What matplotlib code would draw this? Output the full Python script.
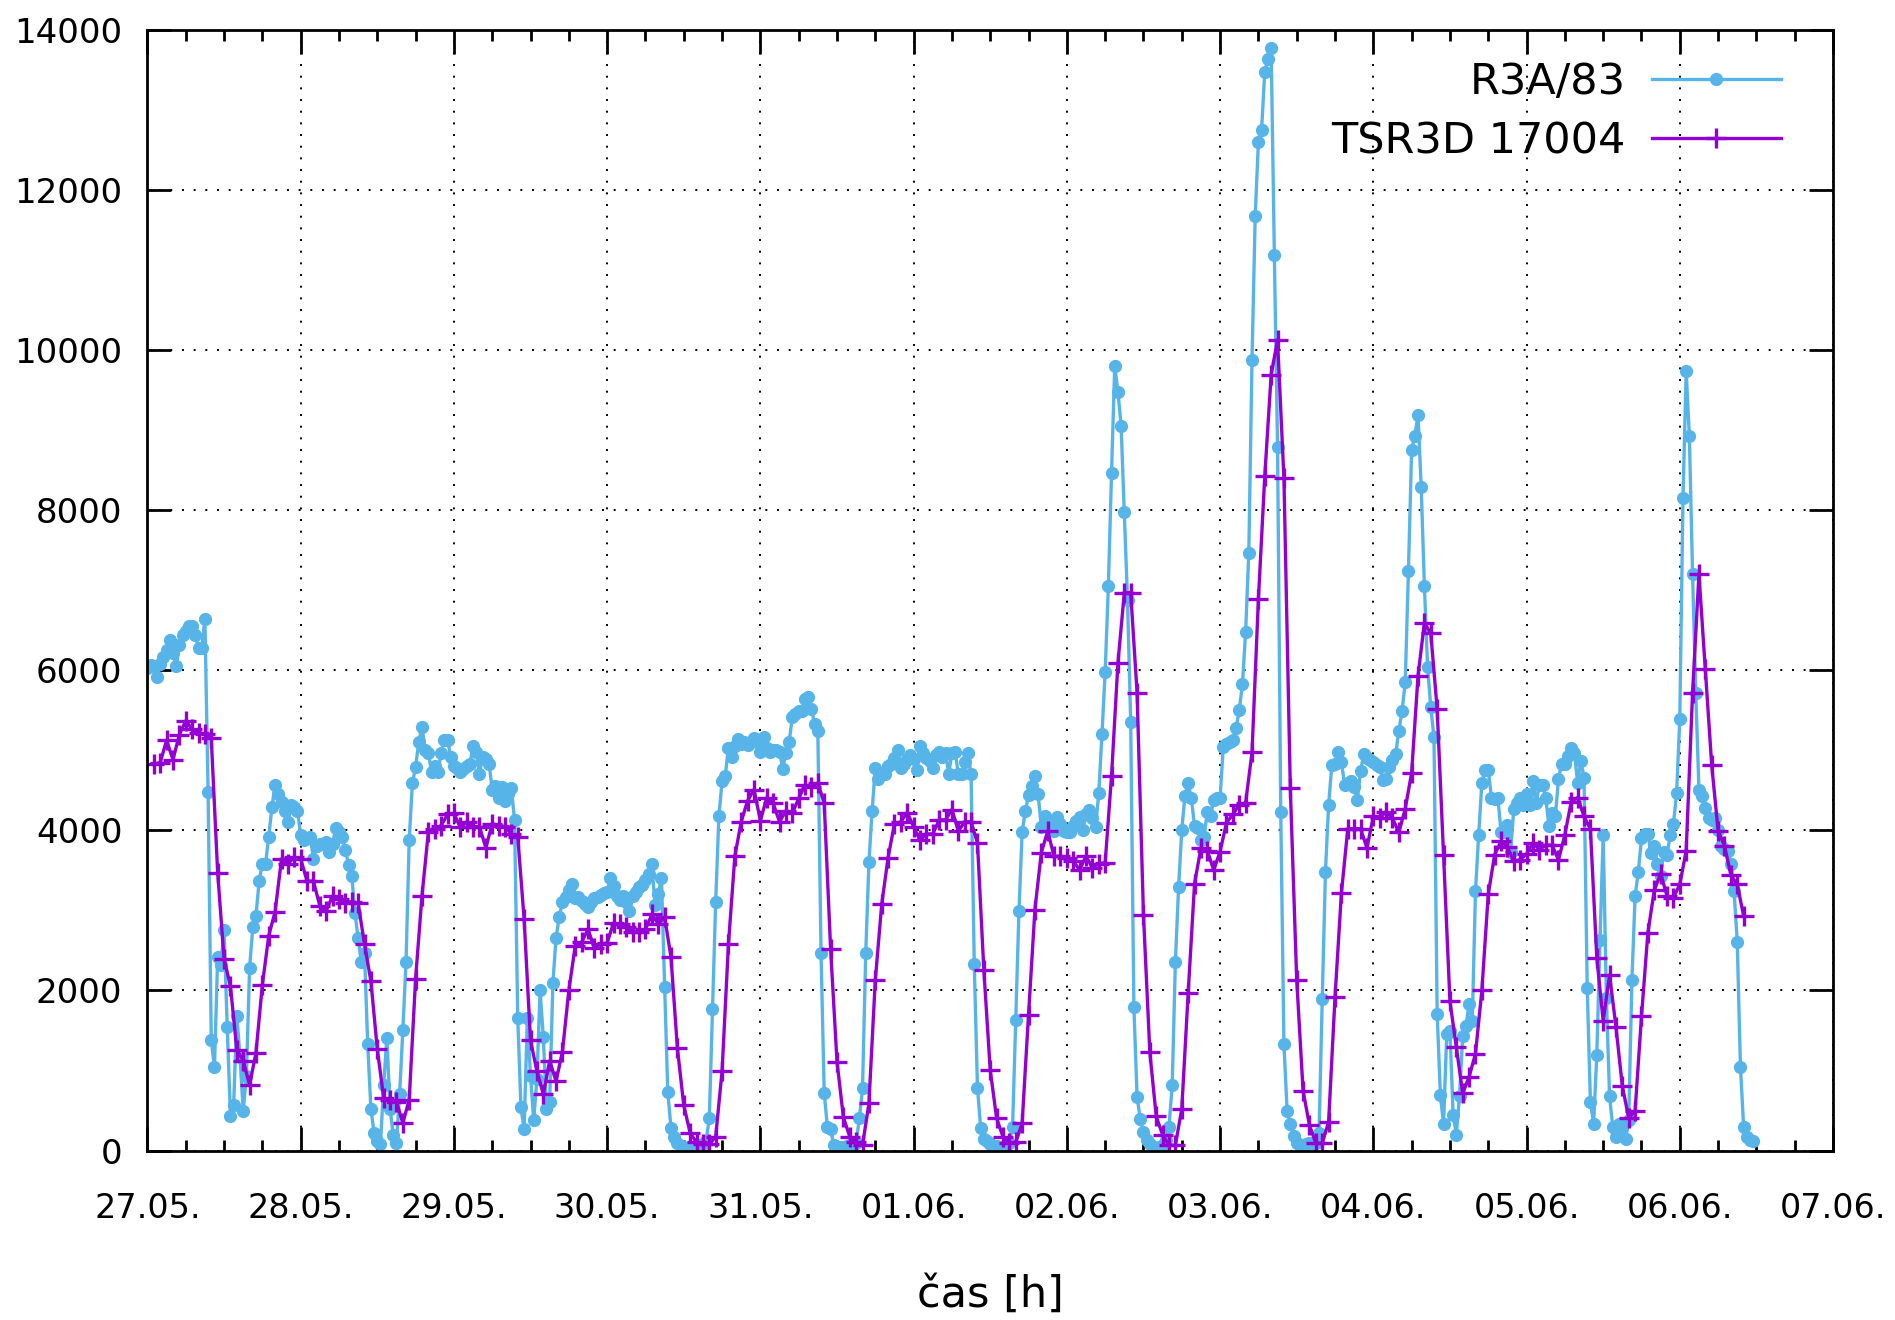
import numpy as np
import matplotlib
matplotlib.use("Agg")
import matplotlib.pyplot as plt

# dni na ose x (zaciatok kazdeho dna)
day_labels = ["27.05.", "28.05.", "29.05.", "30.05.", "31.05.", "01.06.",
              "02.06.", "03.06.", "04.06.", "05.06.", "06.06.", "07.06."]

# R3A/83 - merane kazdych 30 min od 27.05. 00:00
r3a = [
    # 27.05.
    6030, 6060, 6050, 5910, 6080, 6170, 6250, 6380, 6210, 6050,
    6310, 6440, 6490, 6550, 6550, 6440, 6280, 6280, 6640, 4480,
    1375, 1040, 2420, 2320, 2760, 1540, 435, 565, 1685, 1170,
    495, 935, 2280, 2790, 2935, 3370, 3585, 3585, 3920, 4290,
    4570, 4450, 4360, 4245, 4110, 4315, 4290, 4245,
    # 28.05.
    3945, 3875, 3900, 3920, 3645, 3805, 3830, 3830, 3850, 3735,
    3830, 4035, 3980, 3920, 3760, 3565, 3435, 2970, 2650, 2350,
    2465, 1330, 520, 220, 120, 80, 820, 1410, 520, 195,
    100, 705, 1500, 2350, 3885, 4590, 4790, 5110, 5290, 5010,
    4965, 4730, 4800, 4730, 4965, 5135, 5135, 4915,
    # 29.05.
    4800, 4780, 4730, 4770, 4800, 4825, 5055, 4985, 4710, 4915,
    4895, 4835, 4510, 4555, 4410, 4545, 4370, 4450, 4525, 4130,
    1655, 540, 265, 1655, 935, 380, 890, 2000, 1420, 520,
    610, 2090, 2660, 2920, 3110, 3165, 3250, 3330, 3160, 3165,
    3120, 3080, 3040, 3100, 3160, 3165, 3190, 3215,
    # 30.05.
    3225, 3410, 3300, 3180, 3135, 3180, 3110, 2995, 3180, 3225,
    3295, 3320, 3380, 3450, 3585, 3065, 3205, 3410, 2045, 725,
    285, 170, 100, 55, 40, 20, 10, 30, 55, 70,
    80, 125, 400, 1770, 3110, 4175, 4615, 4685, 5035, 4915,
    5055, 5140, 5080, 5100, 5065, 5100, 5160, 5100,
    # 31.05.
    4985, 5170, 5030, 4985, 5010, 5000, 4980, 4770, 4965, 5100,
    5415, 5450, 5495, 5495, 5635, 5665, 5510, 5335, 5240, 2465,
    715, 295, 265, 65, 45, 40, 50, 55, 70, 90,
    100, 400, 775, 2465, 3600, 4245, 4780, 4640, 4700, 4710,
    4800, 4825, 4900, 5000, 4780, 4825, 4895, 4940,
    # 01.06.
    4895, 4755, 5055, 4965, 4900, 4870, 4780, 4940, 4985, 4915,
    4965, 4710, 4965, 4975, 4710, 4710, 4850, 4965, 4700, 2325,
    785, 285, 140, 125, 80, 60, 55, 30, 40, 55,
    100, 295, 1630, 2995, 3980, 4245, 4440, 4555, 4685, 4450,
    4045, 4175, 4100, 4045, 3990, 4165, 4080, 3990,
    # 02.06.
    3985, 3975, 4050, 4120, 4170, 4005, 4200, 4250, 4155, 4040,
    4465, 5200, 5980, 7050, 8470, 9805, 9480, 9055, 7980, 6875,
    5355, 1790, 670, 390, 230, 130, 80, 40, 30, 40,
    65, 130, 300, 815, 2360, 3290, 4005, 4430, 4590, 4400,
    4055, 4025, 3875, 3920, 4235, 4180, 4380, 4410,
    # 03.06.
    4410, 5040, 5085, 5100, 5130, 5280, 5500, 5825, 6480, 7470,
    9880, 11675, 12600, 12755, 13475, 13635, 13770, 11190, 8795, 4230,
    1325, 495, 335, 180, 90, 70, 65, 80, 90, 90,
    90, 225, 1890, 3480, 4320, 4815, 4830, 4975, 4860, 4565,
    4590, 4615, 4545, 4380, 4745, 4950, 4900, 4885,
    # 04.06.
    4855, 4815, 4795, 4625, 4645, 4795, 4880, 4955, 5245, 5495,
    5850, 7245, 8755, 8930, 9190, 8290, 7050, 6035, 5540, 5165,
    1710, 695, 330, 1460, 1490, 445, 200, 685, 1430, 1555,
    1830, 1615, 3240, 3945, 4595, 4750, 4750, 4410, 4395, 4410,
    3985, 3975, 4070, 3725, 4270, 4345, 4410, 4315,
    # 05.06.
    4455, 4315, 4615, 4340, 4570, 4570, 4410, 4060, 4220, 4175,
    4640, 4835, 4835, 4925, 5035, 4965, 4595, 4870, 4660, 2035,
    610, 335, 1190, 2625, 3945, 1910, 680, 295, 170, 325,
    285, 140, 380, 2130, 3180, 3480, 3900, 3955, 3955, 3715,
    3805, 3575, 3435, 3735, 3690, 3945, 4075, 4465,
    # 06.06.
    5395, 8155, 9740, 8925, 7200, 5720, 4510, 4430, 4285, 4155,
    4135, 4155, 4005, 3810, 3765, 3745, 3585, 3245, 2605, 1040,
    295, 165, 130, 115,
]

# TSR3D 17004 - hodinove hodnoty od 27.05. 01:00
tsr3d = [
    # 27.05.
    4824, 4847, 5125, 4884, 5194, 5370, 5264, 5218, 5204, 5148, 3472, 2394,
    2056, 1259, 1120, 819, 1222, 2069, 2685, 2986, 3643, 3583, 3667,
    # 28.05.
    3644, 3366, 3366, 3056, 2996, 3181, 3148, 3088, 3111, 3088, 2579, 2116,
    1269, 657, 634, 611, 343, 634, 2148, 3181, 3982, 4014, 4060, 4199,
    # 29.05.
    4213, 4037, 4107, 4047, 4047, 3783, 4084, 4060, 4047, 3954, 3922, 2889,
    1375, 991, 704, 1120, 866, 1236, 2000, 2556, 2602, 2764, 2533, 2579,
    # 30.05.
    2593, 2843, 2824, 2787, 2732, 2732, 2764, 2949, 2833, 2917, 2417, 1282,
    565, 218, 102, 79, 79, 171, 991, 2579, 3676, 4107, 4371, 4510,
    # 31.05.
    4121, 4408, 4338, 4107, 4246, 4213, 4398, 4570, 4537, 4593, 4338, 2519,
    1111, 417, 171, 102, 65, 588, 2130, 3074, 3658, 4084, 4107, 4223,
    # 01.06.
    4047, 3875, 3954, 3954, 4130, 4130, 4260, 3991, 4107, 4107, 3843, 2255,
    1005, 403, 171, 93, 102, 343, 1699, 3010, 3722, 3991, 3676, 3676,
    # 02.06.
    3660, 3615, 3505, 3680, 3530, 3585, 3595, 4680, 6090, 6970, 6970, 5720,
    2945, 1225, 425, 195, 65, 65, 520, 1965, 3335, 3780, 3745, 3505,
    # 03.06.
    3735, 4095, 4200, 4320, 4345, 4975, 6885, 8430, 9695, 10125, 8400, 4525,
    2135, 745, 315, 90, 90, 360, 1915, 3215, 4020, 4020, 4020, 3780,
    # 04.06.
    4175, 4150, 4235, 4150, 3975, 4270, 4720, 5930, 6595, 6460, 5515, 3695,
    1865, 1290, 715, 920, 1210, 2000, 3200, 3695, 3865, 3790, 3615, 3635,
    # 05.06.
    3705, 3845, 3760, 3815, 3815, 3630, 3945, 4360, 4410, 4175, 4015, 2410,
    1620, 2195, 1545, 805, 405, 495, 1675, 2720, 3250, 3460, 3180, 3160,
    # 06.06.
    3325, 3745, 5720, 7200, 6015, 4815, 3995, 3810, 3440, 3325, 2930,
]

t_r3a = np.arange(len(r3a)) * 0.5
t_tsr = 1 + np.arange(len(tsr3d))

plt.rcParams['font.family'] = ['DejaVu Sans']

fig = plt.figure(figsize=(18.95, 13.2), dpi=100)
ax = fig.add_axes([0.0778, 0.1284, 0.8895, 0.8489])

ax.plot(t_r3a, r3a, color='#56b4e9', lw=2.4, marker='o', markersize=8.5,
        label='R3A/83')
ax.plot(t_tsr, tsr3d, color='#9400d3', lw=2.4, marker='+', markersize=14,
        markeredgewidth=2.4, label='TSR3D 17004')

ax.set_xlim(0, 24 * (len(day_labels) - 1))
ax.set_ylim(0, 14000)
ax.set_xticks(np.arange(len(day_labels)) * 24)
ax.set_xticklabels(day_labels)
ax.set_xticks(np.arange(0, 24 * (len(day_labels) - 1) + 1, 6), minor=True)
ax.set_yticks(np.arange(0, 14001, 2000))

ax.tick_params(axis='both', which='major', direction='in', length=17,
               width=2, top=True, right=True, labelsize=24)
ax.tick_params(axis='x', which='major', pad=30)
ax.tick_params(axis='y', which='major', pad=18, labelsize=24.5)
ax.tick_params(axis='x', which='minor', direction='in', length=8, width=2,
               top=True)
for s in ax.spines.values():
    s.set_linewidth(2)

ax.grid(True, which='major', color='black', linestyle=(0, (1, 5)), lw=1.4)

ax.set_xlabel('čas [h]', fontsize=31)
ax.xaxis.set_label_coords(0.5, -0.11)

ax.legend(loc='upper right', bbox_to_anchor=(0.969, 0.972), frameon=False,
          markerfirst=False, alignment='right', fontsize=31,
          handlelength=3.0, handletextpad=0.6, labelspacing=0.4,
          borderpad=0, borderaxespad=0)

fig.savefig('out.png', dpi=100)
